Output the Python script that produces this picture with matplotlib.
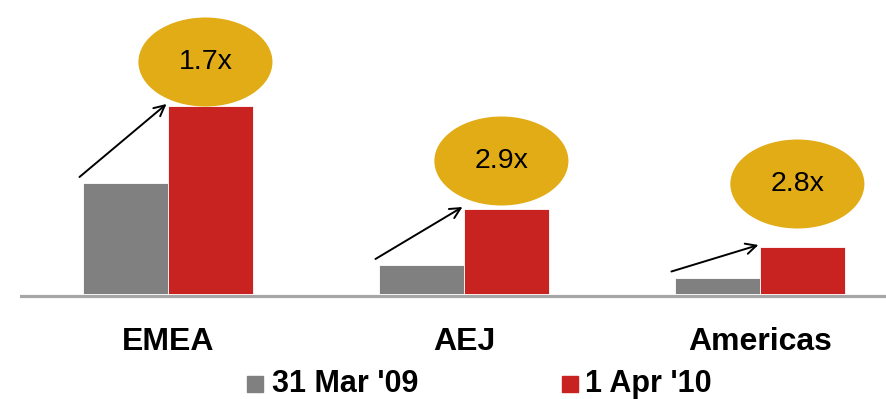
import matplotlib
matplotlib.use("Agg")
import matplotlib.pyplot as plt
from matplotlib.patches import Ellipse, Rectangle
import numpy as np

plt.rcParams['font.family'] = ['Liberation Sans', 'DejaVu Sans']

categories = ["EMEA", "AEJ", "Americas"]
series_names = ["31 Mar '09", "1 Apr '10"]
values_2009 = [111, 29, 16.5]
values_2010 = [188, 85, 47]
multiples = ["1.7x", "2.9x", "2.8x"]

GRAY = "#808080"
RED = "#C82320"
GOLD = "#E1AC16"
AXIS = "#A6A6A6"

W, H = 886, 399
fig = plt.figure(figsize=(W / 100, H / 100), dpi=100)
# axes: left at px 20, right at 886, bottom at px 299, top at 0
ax = fig.add_axes([20 / W, (H - 299) / H, (W - 20) / W, 299 / H])
ax.set_xlim(-0.5, 2.426)
ax.set_ylim(-5, 294)
ax.axis("off")

x = np.arange(len(categories))
bw = 0.287
ax.bar(x - bw / 2, values_2009, bw, color=GRAY, edgecolor="white", linewidth=0.6, zorder=3)
ax.bar(x + bw / 2, values_2010, bw, color=RED, edgecolor="white", linewidth=0.6, zorder=3)
ax.axhline(-1.5, color=AXIS, lw=2.3, zorder=2)

badge_offset = [44, 48, 63]
for i in range(len(categories)):
    # arrow from gray bar top to red bar top
    ax.annotate("", xy=(x[i] - 0.005, values_2010[i] + 2),
                xytext=(x[i] - bw - 0.012, values_2009[i] + 6),
                arrowprops=dict(arrowstyle="->", color="black", lw=1.4,
                                mutation_scale=19, shrinkA=0, shrinkB=0),
                zorder=5)
    cx = x[i] + bw / 2 - 0.017
    cy = values_2010[i] + badge_offset[i]
    e = Ellipse((cx, cy), 0.453, 89, facecolor=GOLD, edgecolor="none", zorder=4, clip_on=False)
    ax.add_patch(e)
    ax.text(cx, cy, multiples[i], ha="center", va="center", fontsize=20.5,
            color="black", zorder=6)
    ax.text(x[i], 1 - 342 / H, categories[i], ha="center", va="center",
            fontsize=23, fontweight="bold",
            transform=matplotlib.transforms.blended_transform_factory(ax.transData, fig.transFigure))

# legend
ly = 1 - 384 / H
fig.patches.append(Rectangle((247 / W, 1 - 392 / H), 16 / W, 16 / H, color=GRAY,
                             transform=fig.transFigure, figure=fig))
fig.text(272 / W, ly, series_names[0], ha="left", va="center", fontsize=22, fontweight="bold")
fig.patches.append(Rectangle((562 / W, 1 - 392 / H), 16 / W, 16 / H, color=RED,
                             transform=fig.transFigure, figure=fig))
fig.text(585 / W, ly, series_names[1], ha="left", va="center", fontsize=22, fontweight="bold")

fig.savefig("out.png", dpi=100)
